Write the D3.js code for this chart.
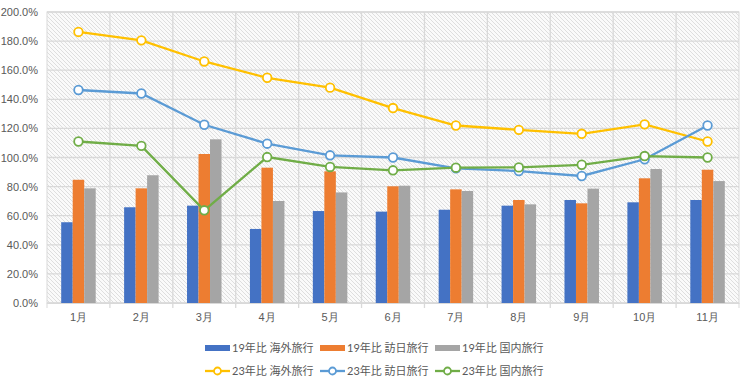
<!DOCTYPE html>
<html>
<head>
<meta charset="utf-8">
<script src="https://cdn.jsdelivr.net/npm/d3@7"></script>
<style>
  body { margin: 0; background: #fff; }
  svg { font-family: Lato, "Noto Sans CJK JP", sans-serif; }
</style>
</head>
<body>
<svg id="chart"></svg>
<script>
let width = 750,
height = 384;

// data
let months = ["1月", "2月", "3月", "4月", "5月", "6月", "7月", "8月", "9月", "10月", "11月"];
let yTicks = [0, 20, 40, 60, 80, 100, 120, 140, 160, 180, 200];

let bar19Kaigai = [55.5, 65.8, 66.9, 50.9, 63.2, 62.8, 64.1, 66.9, 70.8, 69.2, 70.8];
let bar19Honichi = [84.7, 78.8, 102.4, 93.0, 90.5, 80.2, 78.1, 70.8, 68.5, 85.7, 91.6];
let bar19Kokunai = [78.8, 87.8, 112.5, 70.1, 76.0, 80.6, 77.0, 67.8, 78.6, 92.1, 83.8];

let line23Kaigai = [186.3, 180.5, 166.0, 154.8, 148.0, 134.0, 122.0, 119.0, 116.3, 122.8, 111.0];
let line23Honichi = [146.4, 144.0, 122.5, 109.5, 101.5, 100.0, 92.5, 90.7, 87.3, 98.8, 122.0];
let line23Kokunai = [111.0, 108.0, 63.7, 100.3, 93.5, 91.2, 93.0, 93.2, 95.0, 101.0, 100.0];

let barSeries = [
  { name: "19年比 海外旅行", values: bar19Kaigai, color: "#4472C4" },
  { name: "19年比 訪日旅行", values: bar19Honichi, color: "#ED7D31" },
  { name: "19年比 国内旅行", values: bar19Kokunai, color: "#A5A5A5" },
];
let lineSeries = [
  { name: "23年比 海外旅行", values: line23Kaigai, color: "#FFC000" },
  { name: "23年比 訪日旅行", values: line23Honichi, color: "#5B9BD5" },
  { name: "23年比 国内旅行", values: line23Kokunai, color: "#70AD47" },
];

let margin = { top: 12, right: 11, bottom: 81, left: 47 };
let pw = width - margin.left - margin.right,
ph = height - margin.top - margin.bottom;

let svg = d3.select("#chart").attr("width", width).attr("height", height);

// hatch pattern for the plot area
let defs = svg.append("defs");
let pat = defs.append("pattern")
  .attr("id", "hatch")
  .attr("patternUnits", "userSpaceOnUse")
  .attr("width", 4).attr("height", 4);
pat.append("rect").attr("width", 4).attr("height", 4).attr("fill", "#fafafa");
pat.append("path")
  .attr("d", "M-1,-1 L5,5 M-1,3 L1,5 M3,-1 L5,1")
  .attr("stroke", "#dedede").attr("stroke-width", 1);

let g = svg.append("g").attr("transform", `translate(${margin.left},${margin.top})`);

let x = d3.scaleBand().domain(months).range([0, pw]);
let y = d3.scaleLinear().domain([0, 200]).range([ph, 0]);

g.append("rect").attr("width", pw).attr("height", ph)
  .attr("fill", "url(#hatch)").attr("stroke", "#d9d9d9");

// horizontal grid
g.append("g").selectAll("line").data(yTicks).enter().append("line")
  .attr("x1", 0).attr("x2", pw)
  .attr("y1", (d) => y(d)).attr("y2", (d) => y(d))
  .attr("stroke", "#d9d9d9").attr("stroke-width", 1.3);

// vertical grid at category boundaries
g.append("g").selectAll("line").data(months.slice(1)).enter().append("line")
  .attr("x1", (d) => x(d)).attr("x2", (d) => x(d))
  .attr("y1", 0).attr("y2", ph + 5)
  .attr("stroke", "#d9d9d9").attr("stroke-width", 1.3);
g.append("line").attr("x1", 0).attr("x2", 0).attr("y1", ph).attr("y2", ph + 5).attr("stroke", "#d9d9d9");
g.append("line").attr("x1", pw).attr("x2", pw).attr("y1", ph).attr("y2", ph + 5).attr("stroke", "#d9d9d9");

// y axis labels
let yAxis = d3.axisLeft(y).tickValues(yTicks).tickSize(0).tickPadding(9)
  .tickFormat((d) => d.toFixed(1) + "%");
g.append("g").call(yAxis).call((s) => s.select(".domain").remove())
  .selectAll("text").attr("fill", "#595959").style("font-size", "11px");

// x axis labels
let xAxis = d3.axisBottom(x).tickSize(0).tickPadding(10);
g.append("g").attr("transform", `translate(0,${ph})`).call(xAxis)
  .call((s) => s.select(".domain").attr("stroke", "#d9d9d9"))
  .selectAll("text").attr("fill", "#595959").style("font-size", "11px");

// bars
let barW = 11.5;
barSeries.forEach((s, i) => {
  g.append("g").selectAll("rect").data(s.values).enter().append("rect")
    .attr("x", (d, j) => x(months[j]) + x.bandwidth() / 2 + (i - 1.5) * barW)
    .attr("y", (d) => y(d))
    .attr("width", barW)
    .attr("height", (d) => ph - y(d))
    .attr("fill", s.color);
});

// lines
let line = d3.line()
  .x((d, j) => x(months[j]) + x.bandwidth() / 2)
  .y((d) => y(d));
lineSeries.forEach((s) => {
  g.append("path").datum(s.values)
    .attr("d", line).attr("fill", "none")
    .attr("stroke", s.color).attr("stroke-width", 2.3);
  g.append("g").selectAll("circle").data(s.values).enter().append("circle")
    .attr("cx", (d, j) => x(months[j]) + x.bandwidth() / 2)
    .attr("cy", (d) => y(d))
    .attr("r", 4.3)
    .attr("fill", "#fff").attr("stroke", s.color).attr("stroke-width", 1.8);
});

// legend
let legend = svg.append("g");
let lx = [205, 320, 435];
barSeries.forEach((s, i) => {
  let it = legend.append("g").attr("transform", `translate(${lx[i]},348)`);
  it.append("rect").attr("x", 0).attr("y", -3).attr("width", 25).attr("height", 6).attr("fill", s.color);
  it.append("text").attr("x", 27).attr("y", 4).text(s.name)
    .attr("fill", "#595959").style("font-size", "11px");
});
lineSeries.forEach((s, i) => {
  let it = legend.append("g").attr("transform", `translate(${lx[i]},371)`);
  it.append("line").attr("x1", 0).attr("x2", 25).attr("stroke", s.color).attr("stroke-width", 2.3);
  it.append("circle").attr("cx", 12.5).attr("r", 3.5).attr("fill", "#fff")
    .attr("stroke", s.color).attr("stroke-width", 1.8);
  it.append("text").attr("x", 27).attr("y", 4).text(s.name)
    .attr("fill", "#595959").style("font-size", "11px");
});
</script>
</body>
</html>
